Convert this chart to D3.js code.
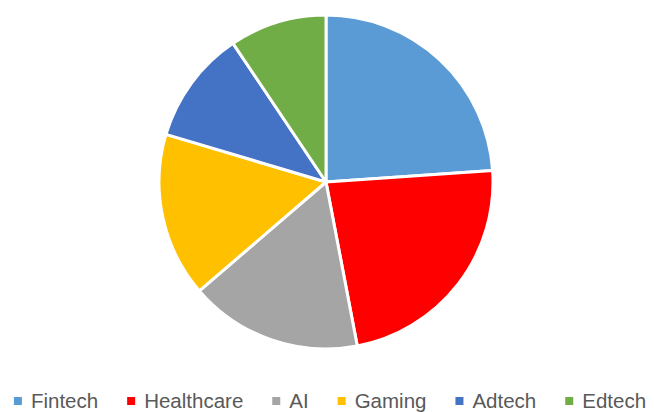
<!DOCTYPE html>
<html>
<head>
<meta charset="utf-8">
<script src="https://cdn.jsdelivr.net/npm/d3@7"></script>
<style>
  html, body { margin: 0; padding: 0; background: #fff; }
  svg { display: block; }
</style>
</head>
<body>
<svg id="chart"></svg>
<script>
// data (percent shares)
const categories = ["Fintech", "Healthcare", "AI", "Gaming", "Adtech", "Edtech"];
const shares = [23.9, 23.1, 16.7, 15.9, 11.0, 9.4];
const colors = ["#5B9BD5", "#FF0000", "#A5A5A5", "#FFC000", "#4472C4", "#70AD47"];

const width = 654, height = 412;
const cx = 326, cy = 182, radius = 167;

const svg = d3.select("#chart")
    .attr("width", width)
    .attr("height", height);

const data = categories.map((c, i) => ({name: c, value: shares[i], color: colors[i]}));

const pie = d3.pie()
    .sort(null)
    .value(d => d.value);

const arc = d3.arc()
    .innerRadius(0)
    .outerRadius(radius);

const g = svg.append("g")
    .attr("transform", "translate(" + cx + "," + cy + ")");

g.selectAll("path")
    .data(pie(data))
    .join("path")
    .attr("d", arc)
    .attr("fill", d => d.data.color)
    .attr("stroke", "#fff")
    .attr("stroke-width", 3)
    .attr("stroke-linejoin", "round");

// legend along the bottom edge
const legend = svg.append("g").attr("class", "legend");
const fontSize = 20.5, sq = 8, textGap = 9, itemGap = 29, baseline = 408;

const items = legend.selectAll("g")
    .data(data)
    .join("g");

items.append("rect")
    .attr("width", sq)
    .attr("height", sq)
    .attr("y", 397)
    .attr("fill", d => d.color);

items.append("text")
    .attr("x", sq + textGap)
    .attr("y", baseline)
    .attr("font-family", "'Liberation Sans', Arial, sans-serif")
    .attr("font-size", fontSize)
    .attr("fill", "#595959")
    .text(d => d.name);

let x = 0;
const offsets = [];
items.each(function() {
  const w = d3.select(this).select("text").node().getComputedTextLength();
  offsets.push(x);
  x += sq + textGap + w + itemGap;
});
const total = x - itemGap;
const startX = 330 - total / 2;
items.attr("transform", (d, i) => "translate(" + (startX + offsets[i]) + ",0)");
</script>
</body>
</html>
